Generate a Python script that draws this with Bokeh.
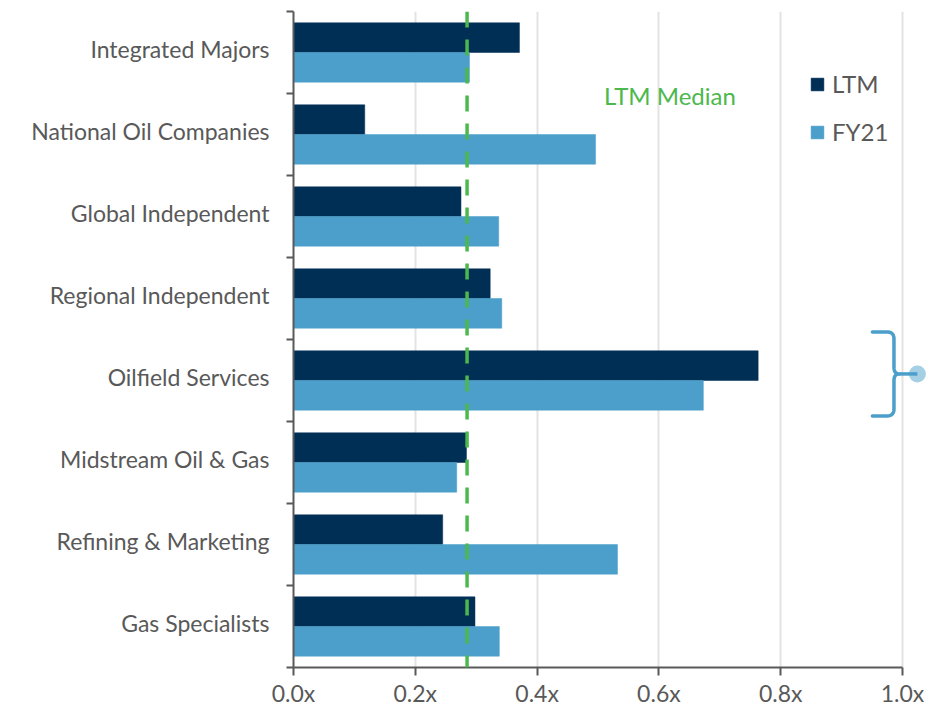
import numpy as np
from bokeh.plotting import figure
from bokeh.models import (Range1d, FixedTicker, PrintfTickFormatter, Span, Label,
                          Legend, LegendItem, ColumnDataSource)
from bokeh.embed import file_html
from bokeh.resources import INLINE

# ---------------- data ----------------
categories = ["Integrated Majors", "National Oil Companies", "Global Independent",
              "Regional Independent", "Oilfield Services", "Midstream Oil & Gas",
              "Refining & Marketing", "Gas Specialists"]
ltm = [0.371, 0.117, 0.275, 0.323, 0.763, 0.284, 0.245, 0.298]
fy21 = [0.289, 0.496, 0.337, 0.342, 0.673, 0.268, 0.532, 0.338]
ltm_median = 0.285
x_ticks = [0.0, 0.2, 0.4, 0.6, 0.8, 1.0]
series_names = ["LTM", "FY21"]
median_label = "LTM Median"
highlight = "Oilfield Services"

# ---------------- style ----------------
FONT = "Lato"
TXT = "#595959"
LTM_C = "#002F56"
FY_C = "#4B9FCA"
GREEN = "#4DB84E"
GRID = "#E3E3E3"

W, H = 928, 711
BL, BR, BT, BB = 293, 0, 11, 44
X_END = 1.0427

n = len(categories)
idx = np.arange(n)
bar_h = 0.362
ys = (H - BT - BB) / n      # px per category
xs = (W - BL - BR) / X_END  # px per x unit

src = ColumnDataSource(dict(cat=categories, ltm=ltm, fy21=fy21,
                            y_ltm=idx + 0.5 - bar_h / 2,
                            y_fy=idx + 0.5 + bar_h / 2))

p = figure(width=W, height=H, x_range=Range1d(0, X_END), y_range=Range1d(n, 0),
           output_backend="svg", toolbar_location=None,
           min_border_left=BL, min_border_right=BR, min_border_top=BT, min_border_bottom=BB)
p.outline_line_color = None
p.background_fill_color = "white"

# grid
p.ygrid.grid_line_color = None
p.xgrid.ticker = FixedTicker(ticks=x_ticks)
p.xgrid.grid_line_color = GRID
p.xgrid.grid_line_width = 2

# bars
r_ltm = p.hbar(y="y_ltm", left=0, right="ltm", height=bar_h, source=src,
               fill_color=LTM_C, line_color=LTM_C, line_width=0.5)
r_fy = p.hbar(y="y_fy", left=0, right="fy21", height=bar_h, source=src,
              fill_color=FY_C, line_color=FY_C, line_width=0.5)

# median line
p.add_layout(Span(location=ltm_median, dimension="height", line_color=GREEN,
                  line_width=3.5, line_dash="16 12"))
p.add_layout(Label(x=0.51, y=1.03, text=median_label, text_color=GREEN,
                   text_font=FONT, text_font_size="24px", text_baseline="middle",
                   text_align="left"))

# x axis
xa = p.xaxis[0]
xa.ticker = FixedTicker(ticks=x_ticks)
xa.formatter = PrintfTickFormatter(format="%.1fx")
xa.bounds = (0, 1)
xa.axis_line_color = TXT
xa.axis_line_width = 2
xa.major_tick_line_color = TXT
xa.major_tick_line_width = 2
xa.major_tick_out = 8
xa.major_tick_in = 0
xa.minor_tick_line_color = None
xa.major_label_text_font = FONT
xa.major_label_text_font_size = "23px"
xa.major_label_text_color = TXT
xa.major_label_standoff = 3

# y axis: labels at category centres, ticks at category boundaries
lab_pos = [float(i) + 0.5 - 0.045 for i in idx]
ya = p.yaxis[0]
ya.ticker = FixedTicker(ticks=lab_pos, minor_ticks=[float(i) for i in range(n + 1)])
ya.major_label_overrides = {t: c for t, c in zip(lab_pos, categories)}
ya.axis_line_color = TXT
ya.axis_line_width = 2
ya.major_tick_line_color = None
ya.major_tick_out = 0
ya.major_tick_in = 0
ya.minor_tick_line_color = TXT
ya.minor_tick_line_width = 2
ya.minor_tick_out = 7
ya.minor_tick_in = 0
ya.major_label_text_font = FONT
ya.major_label_text_font_size = "23px"
ya.major_label_text_color = TXT
ya.major_label_standoff = 17

# legend
legend = Legend(items=[LegendItem(label=series_names[0], renderers=[r_ltm]),
                       LegendItem(label=series_names[1], renderers=[r_fy])],
                location=(516, 521), orientation="vertical",
                glyph_width=16, glyph_height=16, label_height=29, spacing=19,
                label_standoff=7, padding=0, margin=0,
                label_text_font=FONT, label_text_font_size="24px",
                label_text_color=TXT, border_line_color=None,
                background_fill_alpha=0)
p.add_layout(legend)

# brace around the highlighted category
ci = categories.index(highlight)
xm = 0.986
ym = ci + 0.5 - 0.08


def quad(p0, c, p1, k=12):
    t = np.linspace(0, 1, k)[:, None]
    return (1 - t) ** 2 * np.array(p0) + 2 * (1 - t) * t * np.array(c) + t ** 2 * np.array(p1)


half = 42.0
r = 7.0
segs = [
    np.array([[-21.6, -half], [-r, -half]]),
    quad((-r, -half), (0, -half), (0, -half + r)),
    np.array([[0, -half + r], [0, -r]]),
    quad((0, -r), (0, 0), (5, 0)),
    quad((5, 0), (0, 0), (0, r)),
    np.array([[0, r], [0, half - r]]),
    quad((0, half - r), (0, half), (-r, half)),
    np.array([[-r, half], [-21.6, half]]),
]
pts = np.vstack(segs)
bx = xm + pts[:, 0] / xs
by = ym + pts[:, 1] / ys
p.line(bx, by, line_color=FY_C, line_width=3.5, line_join="round", line_cap="round")
p.line([xm + 5 / xs, xm + 23.4 / xs], [ym, ym], line_color=FY_C, line_width=3.5)
p.scatter([xm + 23.4 / xs], [ym], size=17, fill_color=FY_C, fill_alpha=0.5, line_color=None)

open("out.html", "w").write(file_html(p, INLINE))
